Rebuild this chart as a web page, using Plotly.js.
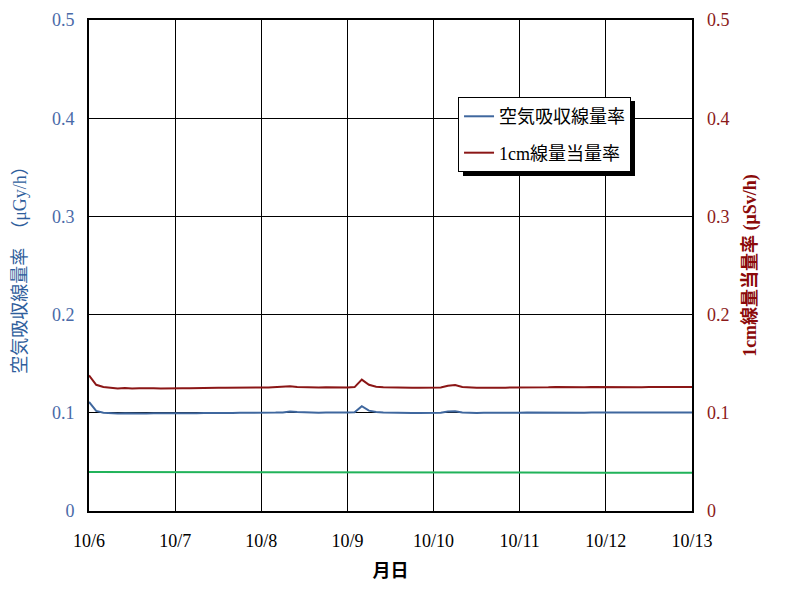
<!DOCTYPE html>
<html>
<head>
<meta charset="utf-8">
<script src="https://cdn.plot.ly/plotly-3.0.1.min.js"></script>
<style>html,body{margin:0;padding:0;background:#fff;}#chart{width:785px;height:592px;}</style>
</head>
<body>
<div id="chart"></div>
<script>
// Tick labels for the date axis (days from 10/6)
const dayTicks = [0, 1, 2, 3, 4, 5, 6, 7];
const dayLabels = ['10/6', '10/7', '10/8', '10/9', '10/10', '10/11', '10/12', '10/13'];

// Samples every 2 hours from 10/6 00:00 to 10/13 00:00
const airDose = [
  0.111, 0.102, 0.100, 0.0995, 0.0993, 0.0996, 0.0994, 0.0995, 0.0993, 0.0996, 0.0995, 0.0994,
  0.0995, 0.0994, 0.0996, 0.0995, 0.0997, 0.0996, 0.0998, 0.1000, 0.0999, 0.1001, 0.1000, 0.1002,
  0.1001, 0.1003, 0.1002, 0.1004, 0.1012, 0.1007, 0.1003, 0.1002, 0.1001, 0.1002, 0.1000, 0.1001,
  0.1002, 0.1005, 0.1068, 0.1022, 0.1008, 0.1004, 0.1001, 0.0999, 0.1000, 0.0998, 0.0999, 0.1000,
  0.0999, 0.1001, 0.1012, 0.1016, 0.1003, 0.0999, 0.0998, 0.1000, 0.0999, 0.1001, 0.1000, 0.1002,
  0.1001, 0.1003, 0.1002, 0.1004, 0.1003, 0.1002, 0.1004, 0.1003, 0.1002, 0.1001, 0.1003, 0.1002,
  0.1001, 0.1002, 0.1003, 0.1002, 0.1004, 0.1003, 0.1002, 0.1004, 0.1003, 0.1002, 0.1003, 0.1002, 0.1003
];
const doseEq1cm = [
  0.138, 0.1285, 0.1262, 0.1253, 0.1248, 0.1252, 0.1247, 0.1250, 0.1246, 0.1249, 0.1247, 0.1250,
  0.1248, 0.1251, 0.1249, 0.1252, 0.1250, 0.1253, 0.1255, 0.1254, 0.1256, 0.1255, 0.1257, 0.1256,
  0.1258, 0.1257, 0.1259, 0.1262, 0.1270, 0.1264, 0.1260, 0.1258, 0.1257, 0.1259, 0.1256, 0.1258,
  0.1257, 0.1262, 0.1338, 0.1285, 0.1265, 0.1260, 0.1257, 0.1255, 0.1256, 0.1254, 0.1255, 0.1256,
  0.1255, 0.1258, 0.1275, 0.1282, 0.1262, 0.1257, 0.1255, 0.1256, 0.1254, 0.1257, 0.1256, 0.1258,
  0.1257, 0.1260, 0.1258, 0.1261, 0.1259, 0.1262, 0.1260, 0.1259, 0.1261, 0.1260, 0.1262, 0.1261,
  0.1260, 0.1262, 0.1261, 0.1263, 0.1262, 0.1260, 0.1262, 0.1261, 0.1263, 0.1262, 0.1264, 0.1262, 0.1263
];
const greenDays = [0, 1, 2, 3, 4, 5, 6, 7];
const greenValues = [0.0398, 0.0398, 0.0395, 0.0394, 0.0393, 0.0392, 0.0390, 0.0389];

const sampleDays = airDose.map((_, i) => i * 2 / 24);

const FONT = 'Liberation Serif, "Noto Sans CJK JP", serif';
const BLUE = '#3F679E';
const RED = '#8B1616';

const traces = [
  {x: sampleDays, y: airDose, type: 'scatter', mode: 'lines', name: '空気吸収線量率',
   line: {color: BLUE, width: 2}, legendgroup: 'a', yaxis: 'y'},
  {x: sampleDays, y: doseEq1cm, type: 'scatter', mode: 'lines', name: '1cm線量当量率',
   line: {color: RED, width: 2}, legendgroup: 'b', yaxis: 'y2'},
  {x: greenDays, y: greenValues, type: 'scatter', mode: 'lines', showlegend: false,
   line: {color: '#21B35A', width: 2}, yaxis: 'y'}
];

const layout = {
  width: 785, height: 592,
  margin: {l: 89, r: 93, t: 20, b: 81},
  paper_bgcolor: '#fff', plot_bgcolor: '#fff',
  font: {family: FONT, size: 18, color: '#000'},
  showlegend: true,
  legend: {x: 0.612, y: 0.843, xanchor: 'left', yanchor: 'top',
    bgcolor: '#fff', bordercolor: '#000', borderwidth: 1,
    font: {family: FONT, size: 18, color: '#000'},
    traceorder: 'grouped', tracegroupgap: 10},
  xaxis: {range: [0, 7], tickvals: dayTicks, ticktext: dayLabels,
    showgrid: true, gridcolor: '#000', gridwidth: 1, zeroline: false,
    showline: true, linecolor: '#000', linewidth: 2, mirror: true,
    ticks: '', ticklabelstandoff: 12,
    tickfont: {family: FONT, size: 18, color: '#000'},
    title: {text: '<b>月日</b>', font: {family: FONT, size: 18, color: '#000'}, standoff: 15}},
  yaxis: {range: [0, 0.5], tickvals: [0, 0.1, 0.2, 0.3, 0.4, 0.5],
    ticktext: ['0', '0.1', '0.2', '0.3', '0.4', '0.5'],
    showgrid: true, gridcolor: '#000', gridwidth: 1, zeroline: false,
    showline: true, linecolor: '#000', linewidth: 2, mirror: true,
    ticks: '', ticklabelstandoff: 9,
    tickfont: {family: FONT, size: 18, color: '#4A6AA8'},
    title: {text: '空気吸収線量率　（μGy/h）', font: {family: FONT, size: 18, color: '#2F5E9C'}, standoff: 21}},
  yaxis2: {range: [0, 0.5], overlaying: 'y', side: 'right',
    tickvals: [0, 0.1, 0.2, 0.3, 0.4, 0.5],
    ticktext: ['0', '0.1', '0.2', '0.3', '0.4', '0.5'],
    showgrid: false, zeroline: false, showline: false,
    ticks: '', ticklabelstandoff: 14,
    tickfont: {family: FONT, size: 18, color: '#8B1A1A'},
    title: {text: '<b>1cm線量当量率 (μSv/h)</b>', font: {family: FONT, size: 18, color: '#8B0A0A'}, standoff: 14}},
  shapes: [
    {type: 'rect', xref: 'paper', yref: 'paper',
     x0: (463 - 89) / 603, x1: (635 - 89) / 603,
     y0: (511 - 176) / 491, y1: (511 - 101) / 491,
     fillcolor: '#000', line: {width: 0}, layer: 'above'}
  ]
};

Plotly.newPlot('chart', traces, layout, {staticPlot: true});
</script>
</body>
</html>
